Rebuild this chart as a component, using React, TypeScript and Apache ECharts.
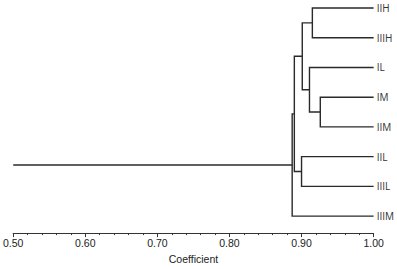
import React, { useEffect, useRef } from "react";
import * as echarts from "echarts";

const leaves = ["IIH", "IIIH", "IL", "IM", "IIM", "IIL", "IIIL", "IIIM"];
// merges: [childA, childB, coefficient]; new node index = leaves.length + i
const mergeA = [0, 3, 2, 8, 5, 11, 13];
const mergeB = [1, 4, 9, 10, 6, 12, 7];
const mergeCoef = [0.915, 0.926, 0.911, 0.901, 0.9, 0.89, 0.887];
const rootStart = 0.5;
const xTicks = [0.5, 0.6, 0.7, 0.8, 0.9, 1.0];

export default function App() {
  const ref = useRef<HTMLDivElement>(null);
  useEffect(() => {
    if (!ref.current) return;
    const chart = echarts.init(ref.current, null, { renderer: "svg" });
    const nx: number[] = leaves.map(() => 1.0);
    const ny: number[] = leaves.map((_, i) => i);
    const items: number[][] = [];
    for (let i = 0; i < mergeA.length; i++) {
      const a = mergeA[i];
      const b = mergeB[i];
      const c = mergeCoef[i];
      items.push([nx[a], ny[a], nx[b], ny[b], c]);
      nx.push(c);
      ny.push((ny[a] + ny[b]) / 2);
    }
    const root = nx.length - 1;
    const lineColor = "#2a2a2a";
    chart.setOption({
      animation: false,
      grid: { left: 11, right: 23, top: 8, height: 212 },
      xAxis: {
        type: "value",
        min: 0.5,
        max: 1.0,
        interval: 0.1,
        offset: 17,
        name: "Coefficient",
        nameLocation: "middle",
        nameGap: 18,
        nameTextStyle: { fontFamily: "Liberation Sans", fontSize: 10.5, color: "#222" },
        axisLine: { show: true, onZero: false, lineStyle: { color: "#333", width: 1 } },
        axisTick: { show: true, length: 4, lineStyle: { color: "#333" } },
        minorTick: { show: true, splitNumber: 5, length: 2, lineStyle: { color: "#333" } },
        splitLine: { show: false },
        axisLabel: {
          margin: 4,
          fontFamily: "Liberation Sans",
          fontSize: 10.5,
          color: "#222",
          formatter: (v: number) => {
            const t = xTicks.find((x) => Math.abs(x - v) < 1e-6);
            return t === undefined ? "" : t.toFixed(2);
          },
        },
      },
      yAxis: {
        type: "value",
        min: 0,
        max: leaves.length - 1,
        interval: 1,
        inverse: true,
        position: "right",
        axisLine: { show: false, onZero: false },
        axisTick: { show: false },
        splitLine: { show: false },
        axisLabel: {
          margin: 3,
          fontFamily: "Open Sans",
          fontSize: 10,
          color: "#333",
          formatter: (v: number) => leaves[Math.round(v)] ?? "",
        },
      },
      series: [
        {
          type: "custom",
          clip: false,
          encode: { x: [0, 2, 4], y: [1, 3] },
          data: items,
          renderItem: (params: any, api: any) => {
            const ax = api.value(0), ay = api.value(1);
            const bx = api.value(2), by = api.value(3);
            const c = api.value(4);
            const p1 = api.coord([ax, ay]);
            const p2 = api.coord([c, ay]);
            const p3 = api.coord([c, by]);
            const p4 = api.coord([bx, by]);
            return {
              type: "polyline",
              shape: { points: [p1, p2, p3, p4] },
              style: { stroke: lineColor, lineWidth: 1.4, fill: "none" },
            };
          },
        },
        {
          type: "line",
          symbol: "none",
          data: [
            [rootStart, ny[root]],
            [nx[root], ny[root]],
          ],
          lineStyle: { color: lineColor, width: 1.4 },
        },
      ],
    });
    return () => chart.dispose();
  }, []);
  return <div ref={ref} style={{ width: 397, height: 269, position: "absolute", left: 0, top: 0 }} />;
}
